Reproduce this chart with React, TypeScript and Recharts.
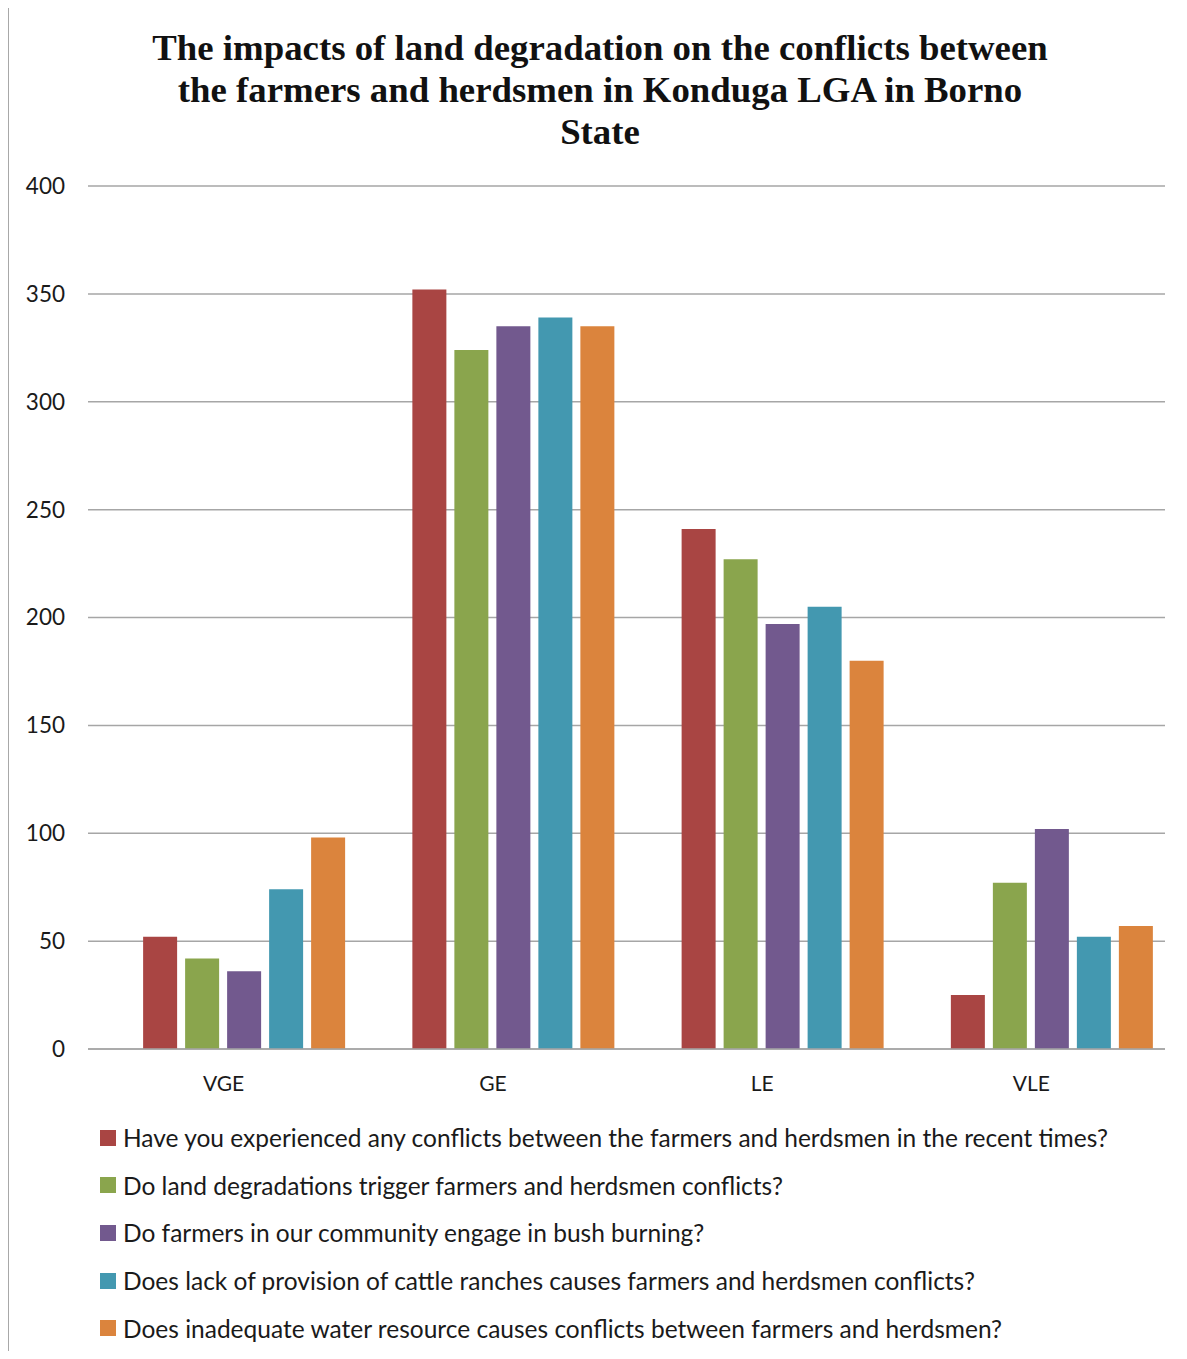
import { BarChart, Bar, XAxis, YAxis, CartesianGrid, Legend } from "recharts";

const categories = ["VGE", "GE", "LE", "VLE"];

const experiencedConflicts = [52, 352, 241, 25];
const degradationTriggers = [42, 324, 227, 77];
const bushBurning = [36, 335, 197, 102];
const lackOfRanches = [74, 339, 205, 52];
const inadequateWater = [98, 335, 180, 57];

const yTicks = [0, 50, 100, 150, 200, 250, 300, 350, 400];

const series = [
  {
    key: "experienced",
    name: "Have you experienced any conflicts between the farmers and herdsmen in the recent times?",
    color: "#A94543",
    values: experiencedConflicts,
  },
  {
    key: "degradation",
    name: "Do land degradations trigger farmers and herdsmen conflicts?",
    color: "#8AA54D",
    values: degradationTriggers,
  },
  {
    key: "burning",
    name: "Do farmers in our community engage in bush burning?",
    color: "#72598E",
    values: bushBurning,
  },
  {
    key: "ranches",
    name: "Does lack of provision of cattle ranches causes farmers and herdsmen conflicts?",
    color: "#4398B0",
    values: lackOfRanches,
  },
  {
    key: "water",
    name: "Does inadequate water resource causes conflicts between farmers and herdsmen?",
    color: "#DB843D",
    values: inadequateWater,
  },
];

const data = categories.map((category, i) => {
  const row: Record<string, string | number> = { category };
  series.forEach((s) => {
    row[s.key] = s.values[i];
  });
  return row;
});

const labelFont = "Lato, 'Noto Sans', sans-serif";

function LegendList() {
  return (
    <div>
      {series.map((s) => (
        <div
          key={s.key}
          style={{
            height: 47.6,
            display: "flex",
            alignItems: "center",
            fontFamily: labelFont,
            fontSize: 24.5,
            color: "#1a1a1a",
            whiteSpace: "nowrap",
          }}
        >
          <span
            style={{
              display: "inline-block",
              flex: "none",
              width: 16,
              height: 16,
              background: s.color,
              marginRight: 7,
            }}
          />
          {s.name}
        </div>
      ))}
    </div>
  );
}

export default function App() {
  return (
    <div
      style={{
        position: "relative",
        margin: -8,
        width: 1187,
        height: 1359,
        overflow: "hidden",
        background: "#fff",
      }}
    >
      <div
        style={{
          position: "absolute",
          left: 7,
          top: 5,
          width: 1300,
          height: 1500,
          borderLeft: "2px solid #a8a8a8",
          borderTop: "2px solid #a8a8a8",
        }}
      />
      <div
        style={{
          position: "absolute",
          left: 50,
          width: 1100,
          top: 27,
          textAlign: "center",
          fontFamily: "'Liberation Serif', 'Times New Roman', serif",
          fontWeight: "bold",
          fontSize: 36.8,
          lineHeight: "42px",
          color: "#111",
        }}
      >
        The impacts of land degradation on the conflicts between
        <br />
        the farmers and herdsmen in Konduga LGA in Borno
        <br />
        State
      </div>
      <div style={{ position: "absolute", left: 0, top: 0 }}>
        <BarChart
          width={1187}
          height={1359}
          data={data}
          margin={{ top: 186, right: 22, left: 0, bottom: 250 }}
          barCategoryGap="12.3%"
          barGap={8}
        >
          <CartesianGrid vertical={false} stroke="#a6a6a6" strokeWidth={1.5} />
          {/* bar groups sit a little right of their labels, so the band range is shifted and the labels pulled back */}
          <XAxis
            dataKey="category"
            height={60}
            padding={{ left: 22, right: -22 }}
            tickSize={0}
            tickMargin={27}
            stroke="#a6a6a6"
            strokeWidth={1.5}
            tick={{ fill: "#1a1a1a", fontSize: 21, fontFamily: labelFont, dx: -21 }}
          />
          <YAxis
            width={88}
            domain={[0, 400]}
            ticks={yTicks}
            axisLine={false}
            tickLine={false}
            tickSize={0}
            tickMargin={23}
            tick={{ fill: "#1a1a1a", fontSize: 22.5, fontFamily: labelFont }}
          />
          <Legend
            layout="vertical"
            align="center"
            verticalAlign="middle"
            wrapperStyle={{ top: 1114, left: 100, width: 1080 }}
            content={() => <LegendList />}
          />
          {series.map((s) => (
            <Bar
              key={s.key}
              dataKey={s.key}
              name={s.name}
              fill={s.color}
              isAnimationActive={false}
            />
          ))}
        </BarChart>
      </div>
    </div>
  );
}
